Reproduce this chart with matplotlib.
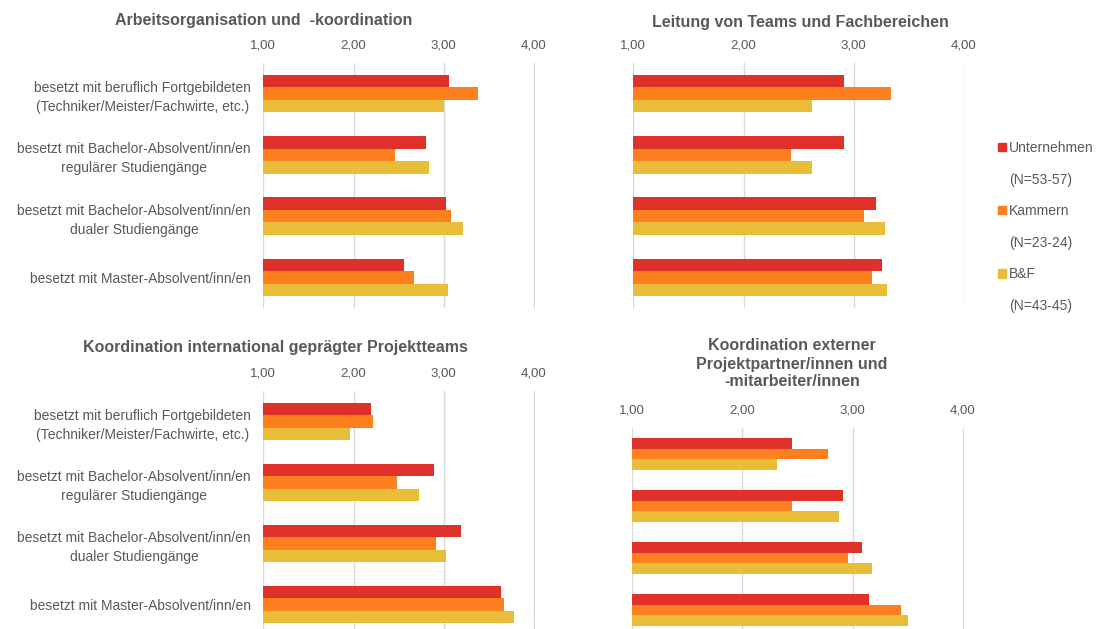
import matplotlib
matplotlib.use('Agg')
import matplotlib.pyplot as plt
import numpy as np
from matplotlib.patches import Patch

plt.rcParams['font.family'] = ['Liberation Sans', 'DejaVu Sans']

# categories (rows) and groups
categories = ['besetzt mit beruflich Fortgebildeten\n(Techniker/Meister/Fachwirte, etc.)',
              'besetzt mit Bachelor-Absolvent/inn/en\nregulärer Studiengänge',
              'besetzt mit Bachelor-Absolvent/inn/en\ndualer Studiengänge',
              'besetzt mit Master-Absolvent/inn/en']
groups = ['Unternehmen', 'Kammern', 'B&F']
group_n = ['(N=53-57)', '(N=23-24)', '(N=43-45)']
colors = ['#E0302A', '#FD7F1D', '#E8BE38']
ticks = [1, 2, 3, 4]
tick_labels = ['1,00', '2,00', '3,00', '4,00']

titles = ['Arbeitsorganisation und  -koordination',
          'Leitung von Teams und Fachbereichen',
          'Koordination international geprägter Projektteams',
          'Koordination externer\nProjektpartner/innen und\n-mitarbeiter/innen']

# values per panel: Unternehmen, Kammern, B&F
arbeit_u = [3.06, 2.80, 3.02, 2.56]
arbeit_k = [3.38, 2.46, 3.08, 2.67]
arbeit_b = [3.00, 2.84, 3.21, 3.05]

leitung_u = [2.91, 2.91, 3.20, 3.26]
leitung_k = [3.34, 2.43, 3.09, 3.17]
leitung_b = [2.62, 2.62, 3.28, 3.30]

intern_u = [2.19, 2.89, 3.19, 3.63]
intern_k = [2.21, 2.48, 2.91, 3.67]
intern_b = [1.96, 2.72, 3.02, 3.78]

extern_u = [2.45, 2.91, 3.09, 3.15]
extern_k = [2.78, 2.45, 2.96, 3.44]
extern_b = [2.32, 2.88, 3.18, 3.50]

panels = [(arbeit_u, arbeit_k, arbeit_b),
          (leitung_u, leitung_k, leitung_b),
          (intern_u, intern_k, intern_b),
          (extern_u, extern_k, extern_b)]

W, H = 1100, 629
fig = plt.figure(figsize=(11, 6.29), dpi=100)

def px(x0, x1, ytop, ybot):
    return [x0 / W, 1 - ybot / H, (x1 - x0) / W, (ybot - ytop) / H]

rects = [px(263.3, 534.5, 63, 308),
         px(633.3, 964.5, 63, 308),
         px(263.3, 534.5, 391, 635),
         px(631.7, 963.5, 428, 636)]
title_pos = [(264, 20), (800, 22), (275, 347), (792, 364)]
grey = '#595959'

for i, (vals, rect) in enumerate(zip(panels, rects)):
    ax = fig.add_axes(rect)
    y = np.arange(len(categories))
    h = 0.205
    for j, v in enumerate(vals):
        ax.barh(y + (j - 1) * h, np.array(v) - 1, left=1, height=h,
                color=colors[j], edgecolor='none', zorder=3)
    ax.set_xlim(1, 4.005)
    ax.set_ylim(3.5, -0.5)
    ax.set_xticks(ticks)
    ax.set_xticklabels(tick_labels)
    ax.xaxis.tick_top()
    ax.grid(axis='x', color='#D9D9D9', linewidth=1, zorder=0)
    ax.tick_params(axis='x', length=0, pad=8, labelsize=9.5, labelcolor=grey)
    ax.set_yticks(y)
    if i in (0, 2):
        ax.set_yticklabels(categories)
        for lab in ax.get_yticklabels():
            lab.set_multialignment('center')
            lab.set_linespacing(1.45)
        ax.tick_params(axis='y', length=0, pad=9, labelsize=10, labelcolor=grey)
    else:
        ax.set_yticklabels([])
        ax.tick_params(axis='y', length=0)
    for s in ax.spines.values():
        s.set_visible(False)
    tx, ty = title_pos[i]
    fig.text(tx / W, 1 - ty / H, titles[i], ha='center', va='center',
             fontsize=11.5, fontweight='bold', color=grey, linespacing=1.25)

# legend
handles = []
labels = []
for g, n, c in zip(groups, group_n, colors):
    handles.append(Patch(color=c))
    labels.append(g)
    handles.append(Patch(color='none'))
    labels.append(n)
leg = fig.legend(handles, labels, loc='upper left', bbox_to_anchor=(991 / W, 1 - 134 / H),
                 frameon=False, fontsize=10, handlelength=0.55, handleheight=0.55,
                 handletextpad=0.25, labelspacing=1.27, borderpad=0)
for t in leg.get_texts():
    t.set_color(grey)

fig.savefig('out.png', dpi=100)
